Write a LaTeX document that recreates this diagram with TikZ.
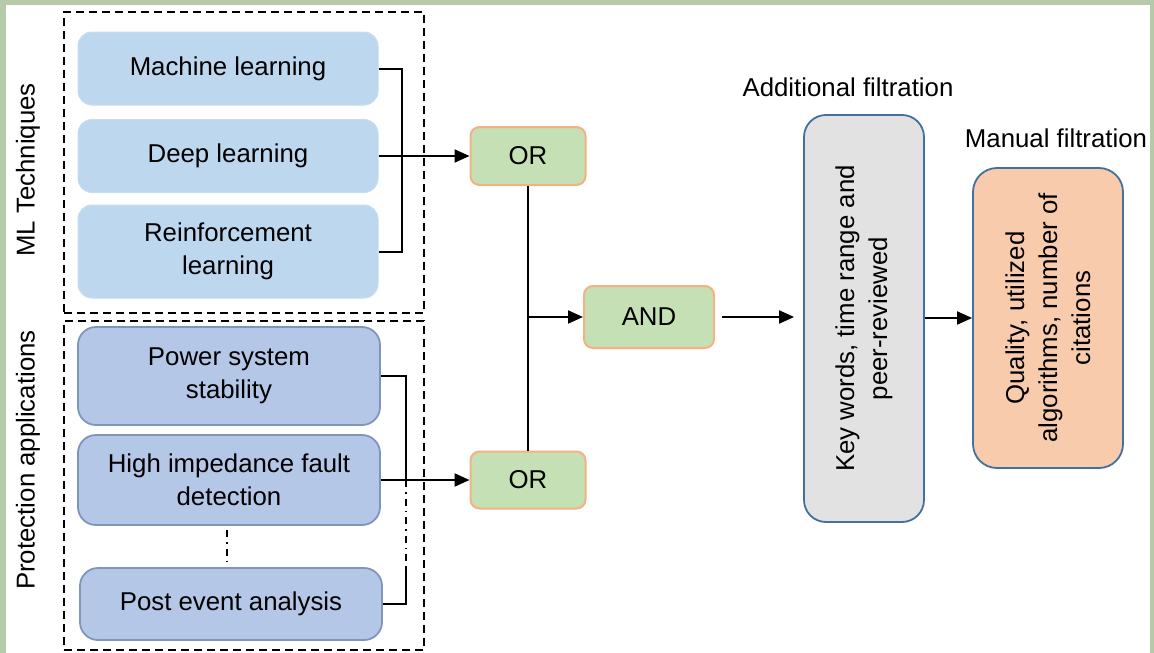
\documentclass[tikz,border=0pt]{standalone}
\usepackage{fontspec}
\setmainfont{Liberation Sans}
\usetikzlibrary{arrows.meta}
\definecolor{bggreen}{HTML}{B6CAA9}
\definecolor{mlfill}{HTML}{BDD7EE}
\definecolor{mlborder}{HTML}{C8DCF0}
\definecolor{prfill}{HTML}{B4C7E7}
\definecolor{prborder}{HTML}{7F95BD}
\definecolor{gatefill}{HTML}{C5E0B4}
\definecolor{gateborder}{HTML}{F4B183}
\definecolor{kwfill}{HTML}{E2E2E2}
\definecolor{boxborder}{HTML}{41719C}
\definecolor{mffill}{HTML}{F8CBAD}
\tikzset{
  txt/.style={font=\fontsize{25.8}{33}\selectfont, align=center, inner sep=0pt},
  mlbox/.style={rectangle, rounded corners=14pt, fill=mlfill, draw=mlborder, line width=1pt, minimum width=300pt, txt},
  prbox/.style={rectangle, rounded corners=18pt, fill=prfill, draw=prborder, line width=1.8pt, minimum width=302pt, txt},
  gate/.style={rectangle, rounded corners=9pt, fill=gatefill, draw=gateborder, line width=2pt, txt},
  group/.style={draw=black, line width=2.4pt, dash pattern=on 8pt off 5pt},
  conn/.style={draw=black, line width=2pt},
  arr/.style={conn, -{Triangle[length=15pt,width=13pt]}},
  dashdotline/.style={draw=black, line width=2pt, dash pattern=on 7pt off 5pt on 1.5pt off 5pt},
}
\begin{document}
\begin{tikzpicture}[x=1pt,y=-1pt]
\useasboundingbox (0,0) rectangle (1154,653);
\fill[bggreen] (0,0) rectangle (1154,653);
\fill[white] (6,5) rectangle (1150,653);

% group frames
\node[group, rectangle, minimum width=360pt, minimum height=301pt, inner sep=0pt] (mlgroup) at (244,162.5) {};
\node[group, rectangle, minimum width=360pt, minimum height=329pt, inner sep=0pt] (prgroup) at (244,485.5) {};

\node[txt, rotate=90] (mltech) at (28,170) {ML Techniques};
\node[txt, rotate=90] (prot) at (28,460) {Protection applications};

% ML boxes
\node[mlbox, minimum height=73pt] (ml) at (228,68.5) {Machine learning};
\node[mlbox, minimum height=73pt] (dl) at (228,156) {Deep learning};
\node[mlbox, minimum height=93pt] (rl) at (228,251.5) {Reinforcement\\learning};

% protection boxes
\node[prbox, minimum height=98pt] (ps) at (229,376) {Power system\\stability};
\node[prbox, minimum height=90pt] (hif) at (229,480) {High impedance fault\\detection};
\node[prbox, minimum height=72pt] (pea) at (231,604) {Post event analysis};

% gates
\node[gate, minimum width=115pt, minimum height=58pt] (or1) at (528,156) {OR};
\node[gate, minimum width=130pt, minimum height=62pt] (and) at (649,317) {AND};
\node[gate, minimum width=115pt, minimum height=57pt] (or2) at (528,480) {OR};

% filtration boxes
\node[rectangle, rounded corners=22pt, fill=kwfill, draw=boxborder, line width=1.8pt, minimum width=120pt, minimum height=407pt] (kw) at (864,318.5) {};
\node[txt, rotate=90] (kwtext) at (kw.center) {Key words, time range and\\peer-reviewed};
\node[rectangle, rounded corners=24pt, fill=mffill, draw=boxborder, line width=1.8pt, minimum width=150pt, minimum height=300pt] (mf) at (1048,318) {};
\node[txt, rotate=90] (mftext) at (mf.center) {Quality, utilized\\algorithms, number of\\citations};

\node[txt] (addf) at (848,87) {Additional filtration};
\node[txt] (manf) at (1056,138) {Manual filtration};

% connectors ML
\draw[conn] (ml.east) -- ++(23,0) |- (rl.east);
\draw[arr] (dl.east) -- (or1.west);

% connectors protection
\coordinate (pb1) at (406,480);
\coordinate (pb2) at (406,568);
\draw[conn] (ps.east) -| (pb1);
\draw[dashdotline] (pb1) -- (pb2);
\draw[conn] (pb2) |- (pea.east);
\draw[arr] (hif.east) -- (or2.west);
\coordinate (hd1) at (227,530);
\coordinate (hd2) at (227,566);
\draw[dashdotline] (hd1) -- (hd2);

% gates
\draw[conn] (or1.south) -- (or2.north);
\coordinate (br) at (528,317);
\draw[arr] (br) -- (and.west);
\draw[arr, shorten <=7pt, shorten >=9pt] (and.east) -- (kw.west |- and.east);
\draw[arr] (kw.east |- mf.west) -- (mf.west);
\end{tikzpicture}
\end{document}
